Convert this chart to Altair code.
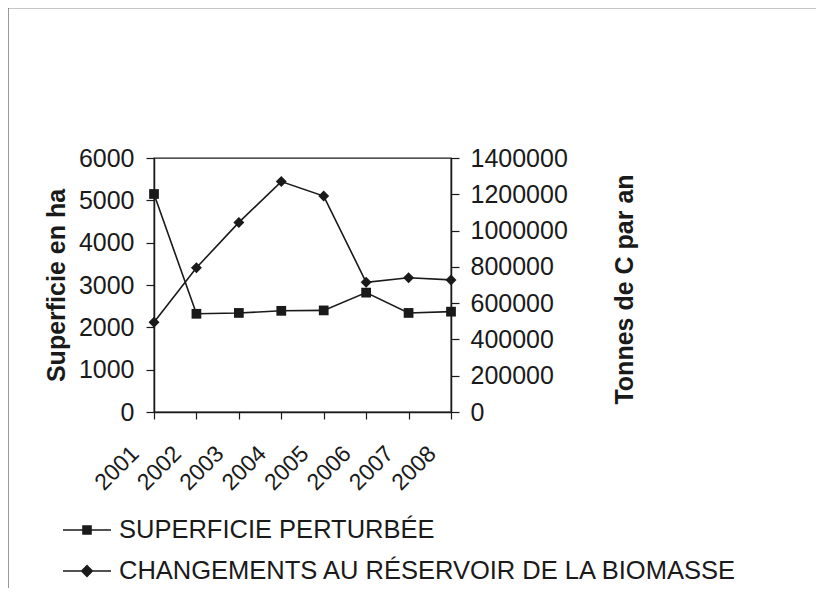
import altair as alt
import pandas as pd

# ---- data ----
years = ["2001", "2002", "2003", "2004", "2005", "2006", "2007", "2008"]
superficie = [5150, 2320, 2340, 2390, 2400, 2820, 2340, 2370]
biomasse = [495000, 795000, 1045000, 1270000, 1190000, 715000, 740000, 728000]
series_names = ["SUPERFICIE PERTURBÉE", "CHANGEMENTS AU RÉSERVOIR DE LA BIOMASSE"]
left_ticks = [0, 1000, 2000, 3000, 4000, 5000, 6000]
right_ticks = [0, 200000, 400000, 600000, 800000, 1000000, 1200000, 1400000]

df = pd.DataFrame({"annee": years, "superficie": superficie, "biomasse": biomasse})
leg_df = pd.DataFrame({"serie": series_names, "annee": [years[0]] * 2, "v": [0, 0]})
frame_df = pd.DataFrame({"k": [0]})

FONT = "Liberation Sans"
INK = "#1a1a1a"

# legend symbols: a short thin bar (the line) with the marker in its middle
SQ_PATH = "M-1.2,-0.04H1.2V0.04H-1.2ZM-0.24,-0.24H0.24V0.24H-0.24Z"
DM_PATH = "M-1.2,-0.04H1.2V0.04H-1.2ZM0,-0.32L0.32,0L0,0.32L-0.32,0Z"

x_enc = alt.X(
    "annee:O",
    scale=alt.Scale(type="point", padding=0),
    axis=alt.Axis(
        title=None, labelAngle=-45, labelAlign="right", labelBaseline="top",
        labelFontSize=23, tickSize=7, labelPadding=23, labelOffset=-27,
    ),
)

y_left = alt.Y(
    "superficie:Q",
    scale=alt.Scale(domain=[0, 6000], nice=False),
    axis=alt.Axis(
        values=left_ticks, format="d", title="Superficie en ha", titleFontSize=25,
        titleFontWeight="bold", titleX=-98, titleY=127, titleAngle=270,
        titleAlign="center", titleBaseline="middle", labelFontSize=25,
        tickSize=8, labelPadding=12, grid=False,
    ),
)

y_right = alt.Y(
    "biomasse:Q",
    scale=alt.Scale(domain=[0, 1400000], nice=False),
    axis=alt.Axis(
        orient="right", values=right_ticks, format="d", title="Tonnes de C par an",
        titleFontSize=25, titleFontWeight="bold", titleX=173, titleY=131,
        titleAngle=270, titleAlign="center", titleBaseline="middle",
        labelFontSize=25, tickSize=8, labelPadding=11, grid=False,
    ),
)

line1 = alt.Chart(df).mark_line(color=INK, strokeWidth=1.6).encode(x=x_enc, y=y_left)
pts1 = alt.Chart(df).mark_point(shape="square", filled=True, size=95, color=INK, opacity=1).encode(
    x=x_enc, y=y_left
)
legend_layer = alt.Chart(leg_df).mark_point(
    filled=True, color=INK, opacity=0
).encode(
    x=x_enc,
    y=alt.Y("v:Q"),
    shape=alt.Shape(
        "serie:N",
        scale=alt.Scale(domain=series_names, range=[SQ_PATH, DM_PATH]),
        legend=alt.Legend(
            title=None, orient="none", legendX=-88, legendY=351,
            symbolSize=1600, symbolFillColor=INK, symbolOpacity=1,
            labelFontSize=25.5, labelFont=FONT, labelColor=INK, labelOffset=11,
            rowPadding=6, padding=0, labelLimit=0,
        ),
    ),
)
left = alt.layer(line1, pts1, legend_layer)

line2 = alt.Chart(df).mark_line(color=INK, strokeWidth=1.6).encode(x=x_enc, y=y_right)
pts2 = alt.Chart(df).mark_point(shape="diamond", filled=True, size=120, color=INK, opacity=1).encode(
    x=x_enc, y=y_right
)
right = alt.layer(line2, pts2)

frame_top = alt.Chart(frame_df).mark_rule(color="#222", strokeWidth=1.5).encode(
    x=alt.value(-146), x2=alt.value(670), y=alt.value(-150.5)
)
frame_left = alt.Chart(frame_df).mark_rule(color="#555", strokeWidth=1.2).encode(
    x=alt.value(-146), y=alt.value(-150.5), y2=alt.value(435)
)

chart = (
    alt.layer(left, right, frame_top, frame_left)
    .resolve_scale(y="independent")
    .properties(
        width=297, height=254, autosize="none",
        padding={"left": 146, "top": 150, "right": 365, "bottom": 176},
    )
    .configure_axis(
        labelFont=FONT, titleFont=FONT, labelColor=INK, titleColor=INK,
        domainColor=INK, tickColor=INK, domainWidth=1.5, tickWidth=1.2,
    )
    .configure_view(stroke=INK, strokeWidth=1.3)
)

chart.save("out.html", embed_options={"renderer": "svg", "actions": False})
